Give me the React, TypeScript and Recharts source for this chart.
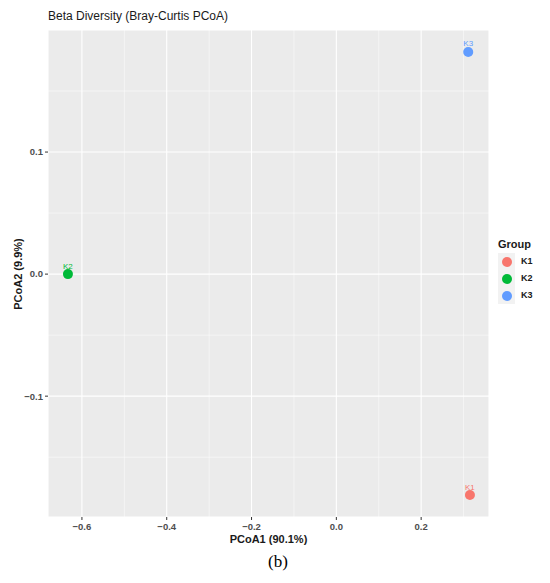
import {
  CartesianGrid,
  LabelList,
  ReferenceLine,
  Scatter,
  ScatterChart,
  XAxis,
  YAxis,
} from 'recharts';

const SAMPLES = ['K1', 'K2', 'K3'];
const PCOA1 = [0.315, -0.633, 0.311];
const PCOA2 = [-0.181, 0.0, 0.182];
const GROUP_COLORS = ['#F8766D', '#00BA38', '#619CFF'];

const X_TICKS = [-0.6, -0.4, -0.2, 0, 0.2];
const Y_TICKS = [-0.1, 0, 0.1];
const X_MINOR = [-0.5, -0.3, -0.1, 0.1, 0.3];
const Y_MINOR = [-0.15, -0.05, 0.05, 0.15];

const FONT = "'Liberation Sans', Arial, Helvetica, sans-serif";

if (typeof document !== 'undefined') document.body.style.margin = '0';

const fmt = (v: number) => v.toFixed(1).replace('-', '\u2212');

const tickStyle = { fontSize: 9.5, fill: '#4D4D4D', fontWeight: 700, fontFamily: FONT };

function GroupLegend() {
  return (
    <div style={{ position: 'absolute', left: 498, top: 238, fontFamily: FONT, color: '#1a1a1a' }}>
      <div style={{ fontSize: 11, fontWeight: 700, marginBottom: 3 }}>Group</div>
      <div style={{ display: 'flex' }}>
        <div style={{ background: '#F2F2F2', width: 17 }}>
          {SAMPLES.map((s, i) => (
            <div
              key={s}
              style={{ height: 17, display: 'flex', alignItems: 'center', justifyContent: 'center' }}
            >
              <div style={{ width: 10, height: 10, borderRadius: 5, background: GROUP_COLORS[i] }} />
            </div>
          ))}
        </div>
        <div style={{ marginLeft: 6 }}>
          {SAMPLES.map((s) => (
            <div key={s} style={{ height: 17, lineHeight: '17px', fontSize: 9, fontWeight: 700 }}>
              {s}
            </div>
          ))}
        </div>
      </div>
    </div>
  );
}

export default function App() {
  return (
    <div style={{ position: 'relative', width: 550, height: 583, background: '#fff' }}>
      <div
        style={{
          position: 'absolute',
          left: 48,
          top: 9,
          fontFamily: FONT,
          fontSize: 12,
          color: '#1a1a1a',
        }}
      >
        Beta Diversity (Bray-Curtis PCoA)
      </div>
      <ScatterChart width={550} height={583} margin={{ top: 30, right: 61, bottom: 46, left: 12 }}>
        <CartesianGrid fill="#EBEBEB" stroke="#FFFFFF" strokeWidth={1.1} />
        {X_MINOR.map((v) => (
          <ReferenceLine key={`x${v}`} x={v} stroke="#FFFFFF" strokeWidth={0.5} />
        ))}
        {Y_MINOR.map((v) => (
          <ReferenceLine key={`y${v}`} y={v} stroke="#FFFFFF" strokeWidth={0.5} />
        ))}
        <XAxis
          type="number"
          dataKey="x"
          domain={[-0.68, 0.36]}
          ticks={X_TICKS}
          tickFormatter={fmt}
          allowDataOverflow
          axisLine={false}
          tickLine={{ stroke: '#333333' }}
          tickSize={3}
          tick={{ ...tickStyle, dy: 1 }}
          height={20}
        />
        <YAxis
          type="number"
          dataKey="y"
          domain={[-0.199, 0.2]}
          ticks={Y_TICKS}
          tickFormatter={fmt}
          allowDataOverflow
          axisLine={false}
          tickLine={{ stroke: '#333333' }}
          tickSize={3}
          tick={tickStyle}
          width={36}
        />
        {SAMPLES.map((s, i) => (
          <Scatter
            key={s}
            name={s}
            data={[{ x: PCOA1[i], y: PCOA2[i], label: s }]}
            fill={GROUP_COLORS[i]}
            isAnimationActive={false}
            shape={(p: any) => <circle cx={p.cx} cy={p.cy} r={5} fill={GROUP_COLORS[i]} />}
          >
            <LabelList
              dataKey="label"
              position="top"
              offset={1}
              fill={GROUP_COLORS[i]}
              fontSize={8}
              fontFamily={FONT}
            />
          </Scatter>
        ))}
      </ScatterChart>
      <GroupLegend />
      <div
        style={{
          position: 'absolute',
          left: 0,
          width: 537,
          top: 533,
          textAlign: 'center',
          fontFamily: FONT,
          fontSize: 11,
          fontWeight: 700,
          color: '#1a1a1a',
        }}
      >
        PCoA1 (90.1%)
      </div>
      <div
        style={{
          position: 'absolute',
          left: 18,
          top: 274,
          transform: 'translate(-50%, -50%) rotate(-90deg)',
          whiteSpace: 'nowrap',
          fontFamily: FONT,
          fontSize: 11,
          fontWeight: 700,
          color: '#1a1a1a',
        }}
      >
        PCoA2 (9.9%)
      </div>
      <div
        style={{
          position: 'absolute',
          left: 0,
          width: 556,
          top: 552,
          textAlign: 'center',
          fontFamily: "'Liberation Serif', 'Times New Roman', serif",
          fontSize: 17,
          color: '#000',
        }}
      >
        (b)
      </div>
    </div>
  );
}
